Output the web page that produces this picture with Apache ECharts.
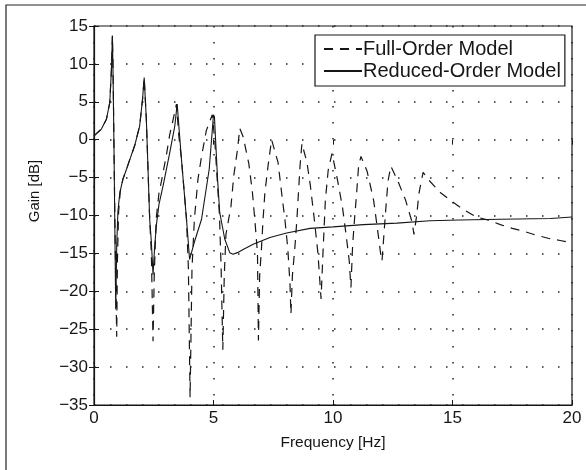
<!DOCTYPE html>
<html>
<head>
<meta charset="utf-8">
<script src="https://cdn.jsdelivr.net/npm/echarts@6/dist/echarts.min.js"></script>
<style>
html,body{margin:0;padding:0;background:#fff;}
#main{width:586px;height:470px;}
</style>
</head>
<body>
<div id="main"></div>
<script>
// full-order model (dashed)
var fullFreq = [0,0.3,0.52,0.66,0.73,0.77,0.8,0.84,0.88,0.92,0.95,0.98,1.03,1.1,1.21,1.36,1.5,1.7,1.91,2.03,2.1,2.19,2.26,2.33,2.4,2.47,2.52,2.6,2.72,2.82,3.03,3.17,3.3,3.45,3.55,3.66,3.87,3.95,4.02,4.1,4.2,4.35,4.5,4.7,4.95,5.05,5.15,5.25,5.32,5.39,5.45,5.52,5.73,5.85,6.0,6.1,6.24,6.48,6.63,6.73,6.84,6.88,6.93,7.01,7.07,7.15,7.28,7.43,7.7,7.85,7.99,8.11,8.2,8.24,8.3,8.41,8.49,8.62,8.7,8.91,9.05,9.2,9.37,9.5,9.58,9.68,9.8,9.96,10.2,10.4,10.55,10.68,10.75,10.82,10.9,10.99,11.07,11.17,11.43,11.7,11.87,12.0,12.05,12.12,12.2,12.3,12.42,12.72,13.04,13.3,13.39,13.5,13.6,13.77,14.0,14.5,15.0,15.5,16.0,16.5,17.0,17.5,18.0,18.5,19.0,19.5,20.0];
var fullGain = [0.5,1.4,2.7,4.9,9.3,13.7,9,-2,-12,-20,-26,-16,-9.5,-6.8,-5.2,-3.9,-2.6,-0.8,1.8,5.3,8.2,2.7,-3.9,-10.5,-15,-26.6,-18,-10.5,-7,-5.5,-2,0.7,2.5,4.7,0.5,-2.6,-10.5,-17,-34,-17,-10.5,-5.2,-2.2,1.2,3.3,0,-5,-10,-17,-27.7,-18,-12.5,-8.8,-4.7,-1.4,1.5,0.4,-3.2,-7,-10.6,-15,-26.5,-18,-14.2,-10.7,-7,-3.5,0,-3,-7,-10.6,-14.4,-19,-23,-18,-14,-10.5,-3.5,-0.5,-3,-6,-10,-15,-21,-15,-8,-4,-1.8,-5.5,-9,-12.6,-16,-19.5,-14,-10.5,-7,-3.5,-2.2,-4.2,-8,-12,-15.2,-16,-13,-9.5,-5.5,-3.5,-5.5,-8,-10.8,-12.5,-10,-7,-4.3,-5.3,-7,-8.2,-9.3,-10.2,-10.6,-11.2,-11.7,-12.1,-12.6,-13,-13.3,-13.6];

// reduced-order model (solid)
var redFreq = [0,0.31,0.52,0.66,0.73,0.77,0.8,0.84,0.88,0.91,0.95,1.0,1.08,1.21,1.36,1.5,1.7,1.91,2.03,2.1,2.19,2.26,2.33,2.4,2.47,2.54,2.62,2.72,2.89,3.17,3.38,3.48,3.57,3.66,3.87,4.0,4.2,4.5,4.82,5.0,5.04,5.1,5.17,5.26,5.47,5.68,5.82,6.0,6.24,6.66,7.36,8.06,9.04,10.0,11.27,12.67,14.06,15.3,17.0,19.1,20.0];
var redGain = [0.5,1.4,2.7,4.9,9.3,13.7,8,-2,-14,-22.4,-14,-9.5,-7,-5.2,-3.9,-2.6,-0.8,1.8,5.3,8.2,2.7,-3.9,-10.5,-13.5,-17.8,-14,-11,-8.5,-6.1,-1.7,1.8,4.7,1,-2.6,-10.5,-15.8,-13.5,-10.5,-3.9,3.3,3.0,-0.8,-5.2,-9.6,-13.1,-14.9,-15.1,-14.9,-14.5,-13.8,-12.9,-12.3,-11.7,-11.5,-11.2,-11.0,-10.7,-10.6,-10.5,-10.4,-10.2];

var seriesNames = ['Full-Order Model', 'Reduced-Order Model'];
var xTicks = [0, 5, 10, 15, 20];
var yTicks = [-35, -30, -25, -20, -15, -10, -5, 0, 5, 10, 15];

function pairs(xs, ys) {
	return xs.map(function (x, i) { return [x, ys[i]]; });
}

var font = '"Liberation Sans", Arial, Helvetica, sans-serif';
var ink = '#161616';
var dots = { color: '#222', width: 1.5, type: [1.5, 14.5] };

var myChart = echarts.init(document.getElementById('main'));

var option = {
	backgroundColor: '#fff',
	animation: false,
	textStyle: { fontFamily: font },
	graphic: [{
		type: 'rect',
		shape: { x: 6, y: 5, width: 620, height: 520 },
		style: { fill: 'none', stroke: '#222', lineWidth: 1.2 },
		silent: true
	}, {
		// y axis title sits a bit above the plot centre in the original
		type: 'text',
		x: 35, y: 191, rotation: Math.PI / 2,
		style: {
			text: 'Gain [dB]', fontFamily: font, fontSize: 15, fill: ink,
			align: 'center', verticalAlign: 'middle'
		},
		silent: true
	}],
	grid: {
		left: 94, right: 14, top: 26, bottom: 65,
		show: true, borderColor: ink, borderWidth: 1.2, backgroundColor: 'transparent'
	},
	legend: {
		orient: 'vertical',
		left: 315, top: 35,
		itemWidth: 38, itemHeight: 14, itemGap: 2,
		padding: [4, 4, 5, 8],
		borderColor: ink, borderWidth: 1.2,
		backgroundColor: '#fff',
		itemStyle: { opacity: 0 },
		textStyle: { fontFamily: font, fontSize: 20, lineHeight: 16, color: ink, padding: [0, 0, 0, -4] },
		data: seriesNames
	},
	xAxis: [{
		type: 'value', min: xTicks[0], max: xTicks[xTicks.length - 1], interval: 5,
		name: 'Frequency [Hz]', nameLocation: 'middle', nameGap: 30,
		nameTextStyle: { fontFamily: font, fontSize: 15.5, color: ink },
		axisLine: { onZero: false, lineStyle: { color: ink, width: 1.2 } },
		axisTick: { inside: true, length: 5, lineStyle: { color: ink } },
		axisLabel: { fontFamily: font, fontSize: 17, color: ink, margin: 5 },
		splitLine: { show: true, lineStyle: dots }
	}, {
		type: 'value', position: 'top', min: 0, max: 20, interval: 5,
		axisLine: { show: false },
		axisTick: { inside: true, length: 5, lineStyle: { color: ink } },
		axisLabel: { show: false },
		splitLine: { show: false }
	}],
	yAxis: [{
		type: 'value', min: yTicks[0], max: yTicks[yTicks.length - 1], interval: 5,
		axisLine: { show: true, onZero: false, lineStyle: { color: ink, width: 1.2 } },
		axisTick: { show: true, inside: true, length: 5, lineStyle: { color: ink } },
		axisLabel: {
			fontFamily: font, fontSize: 17, color: ink, margin: 6,
			formatter: function (v) { return String(v).replace('-', '\u2212'); }
		},
		splitLine: { show: true, lineStyle: dots }
	}, {
		type: 'value', position: 'right', min: -35, max: 15, interval: 5,
		axisLine: { show: false },
		axisTick: { show: true, inside: true, length: 5, lineStyle: { color: ink } },
		axisLabel: { show: false },
		splitLine: { show: false }
	}],
	series: [{
		name: seriesNames[0],
		type: 'line',
		showSymbol: false,
		symbol: 'none',
		data: pairs(fullFreq, fullGain),
		lineStyle: { color: ink, width: 1.2, type: [9, 7] },
		itemStyle: { color: ink },
		z: 3
	}, {
		name: seriesNames[1],
		type: 'line',
		showSymbol: false,
		symbol: 'none',
		data: pairs(redFreq, redGain),
		lineStyle: { color: ink, width: 1.1 },
		itemStyle: { color: ink },
		z: 4
	}]
};

myChart.setOption(option);
</script>
</body>
</html>
